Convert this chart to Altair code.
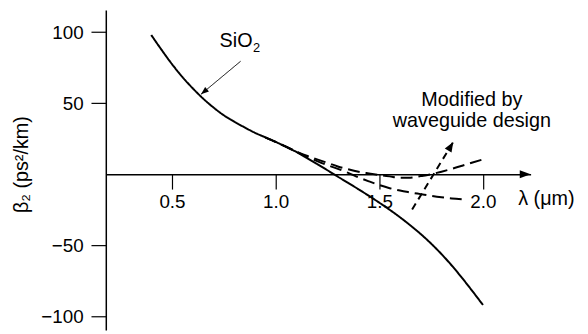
import math
import altair as alt
import pandas as pd

# ---- data ----
lam_sio2 = [0.40, 0.45, 0.50, 0.55, 0.60, 0.65, 0.70, 0.75, 0.80, 0.85, 0.90, 0.95, 1.00,
            1.05, 1.10, 1.15, 1.20, 1.25, 1.30, 1.35, 1.40, 1.45, 1.50, 1.55, 1.60, 1.65,
            1.70, 1.75, 1.80, 1.85, 1.90, 1.95, 2.00]
beta_sio2 = [98, 87.5, 77.5, 68.5, 60.5, 53.3, 47, 41.5, 37, 33, 29.2, 26, 22.8,
             19.3, 15.7, 11.5, 7.2, 2.8, -1.7, -6.1, -10.6, -15.2, -20, -25, -30.3, -36,
             -42.1, -48.8, -56.2, -64.3, -73.1, -82.4, -92]

lam_up = [0.95, 1.00, 1.05, 1.10, 1.15, 1.20, 1.25, 1.30, 1.35, 1.40, 1.45, 1.50, 1.55,
          1.60, 1.65, 1.70, 1.75, 1.80, 1.85, 1.90, 1.95, 2.02]
beta_up = [26, 22.8, 19.4, 16, 13, 10.5, 8, 5.5, 3.5, 1.8, 0.6, -0.5, -1.5,
           -2.5, -2.4, -1.3, 0, 1.8, 3.8, 6, 8.3, 11.3]

lam_low = [0.95, 1.00, 1.05, 1.10, 1.15, 1.20, 1.25, 1.30, 1.35, 1.40, 1.45, 1.50, 1.55,
           1.60, 1.65, 1.70, 1.75, 1.80, 1.85, 1.90]
beta_low = [26, 22.8, 19.4, 15.8, 12.4, 9.3, 6.4, 3.8, 1.0, -2.2, -5.0, -7.6, -9.8,
            -11.5, -12.8, -14, -15.2, -16.2, -17, -17.6]

x_ticks = [0.5, 1.0, 1.5, 2.0]
y_ticks = [-100, -50, 50, 100]
x_domain = [0.1807, 2.230]
y_domain = [-109.7, 115.6]

# arrows: start -> tip
arrow_sio2 = {"lam": 0.8308, "beta": 79.5, "lam2": 0.6399, "beta2": 56.3}
arrow_design = {"lam": 1.6585, "beta": -24.8, "lam2": 1.857, "beta2": 22.7}

# text annotations
sio_label = {"lam": 0.8885, "beta": 89.9, "label": "SiO"}
sio_sub = {"lam": 0.8909, "beta": 85.95, "label": "2"}
design_labels = [{"lam": 1.9466, "beta": 48.2, "label": "Modified by"},
                 {"lam": 1.9466, "beta": 33.1, "label": "waveguide design"}]
axis_label = {"lam": 2.306, "beta": -21.3, "label": "λ (μm)"}

# ---- layout ----
W, H = 430, 324
FONT = "Liberation Sans"
kx = W / (x_domain[1] - x_domain[0])
ky = H / (y_domain[1] - y_domain[0])
x_offset = -H * (0 - y_domain[0]) / (y_domain[1] - y_domain[0])

xs = alt.Scale(domain=x_domain, nice=False, zero=False)
ys = alt.Scale(domain=y_domain, nice=False, zero=False)

rows = []
for name, lx, by in [("SiO2", lam_sio2, beta_sio2), ("upper", lam_up, beta_up), ("lower", lam_low, beta_low)]:
    for i, (a, b) in enumerate(zip(lx, by)):
        rows.append({"series": name, "lam": a, "beta": b, "order": i})
curves = pd.DataFrame(rows)

lines = alt.Chart(curves).mark_line(color="black", strokeWidth=2, interpolate="monotone").encode(
    x=alt.X("lam:Q", scale=xs, axis=alt.Axis(
        values=x_ticks, format=".1f", offset=x_offset, title="", grid=False,
        tickSize=15, tickWidth=1.2, domainWidth=1.5, labelPadding=4,
        labelFontSize=19, labelFlush=False, labelOverlap=False)),
    y=alt.Y("beta:Q", scale=ys, axis=alt.Axis(
        values=y_ticks, format="d", title="β₂ (ps²/km)", grid=False,
        tickSize=15, tickWidth=1.2, domainWidth=1.5, labelPadding=8,
        labelFontSize=19, titleFontSize=20, titleFontWeight="normal",
        titleAngle=270, titleX=-79, titleY=156, titleAlign="center",
        titleBaseline="alphabetic")),
    detail="series:N",
    order="order:Q",
    strokeDash=alt.StrokeDash("series:N", scale=alt.Scale(
        domain=["SiO2", "upper", "lower"], range=[[1, 0], [12, 6], [12, 6]]), legend=None),
)


def head_angle(a):
    dx = (a["lam2"] - a["lam"]) * kx
    dy_up = (a["beta2"] - a["beta"]) * ky
    return math.degrees(math.atan2(dx, dy_up)) % 360


def arrow_layers(a, width, dash, head_path, head_size):
    df = pd.DataFrame([a])
    rule = alt.Chart(df).mark_rule(color="black", strokeWidth=width, strokeDash=dash).encode(
        x=alt.X("lam:Q", scale=xs), x2="lam2:Q",
        y=alt.Y("beta:Q", scale=ys), y2="beta2:Q")
    head = alt.Chart(df).mark_point(filled=True, color="black", opacity=1, strokeWidth=0,
                                    shape=head_path, size=head_size,
                                    angle=head_angle(a)).encode(
        x=alt.X("lam2:Q", scale=xs),
        y=alt.Y("beta2:Q", scale=ys))
    return [rule, head]


sio2_arrow = arrow_layers(arrow_sio2, 1, [1, 0], "M0,0L-0.75,2L0.75,2Z", 64)
design_arrow = arrow_layers(arrow_design, 2, [7, 5], "M0,0L-0.8,2L0.8,2Z", 100)

x_head = alt.Chart(pd.DataFrame([{"lam": x_domain[1], "beta": 0}])).mark_point(
    filled=True, color="black", opacity=1, strokeWidth=0,
    shape="M0,0L-2,-0.75L-2,0.75Z", size=121).encode(
    x=alt.X("lam:Q", scale=xs), y=alt.Y("beta:Q", scale=ys))


def text_layer(recs, size, align):
    return alt.Chart(pd.DataFrame(recs)).mark_text(
        font=FONT, fontSize=size, align=align, baseline="alphabetic", color="black").encode(
        x=alt.X("lam:Q", scale=xs), y=alt.Y("beta:Q", scale=ys),
        text="label:N")


texts = [
    text_layer([sio_label], 20, "right"),
    text_layer([sio_sub], 13, "left"),
    text_layer(design_labels, 20, "center"),
    text_layer([axis_label], 20, "center"),
]

chart = alt.layer(lines, *sio2_arrow, *design_arrow, x_head, *texts).properties(
    width=W, height=H,
    background="white",
    autosize=alt.AutoSizeParams(type="none"),
    padding={"left": 99, "top": 0, "right": 50, "bottom": 10},
).configure_view(stroke=None).configure_axis(
    labelFont=FONT, titleFont=FONT, labelColor="black", titleColor="black",
    domainColor="black", tickColor="black",
)

chart.save("out.html", embed_options={"renderer": "svg", "actions": False})
